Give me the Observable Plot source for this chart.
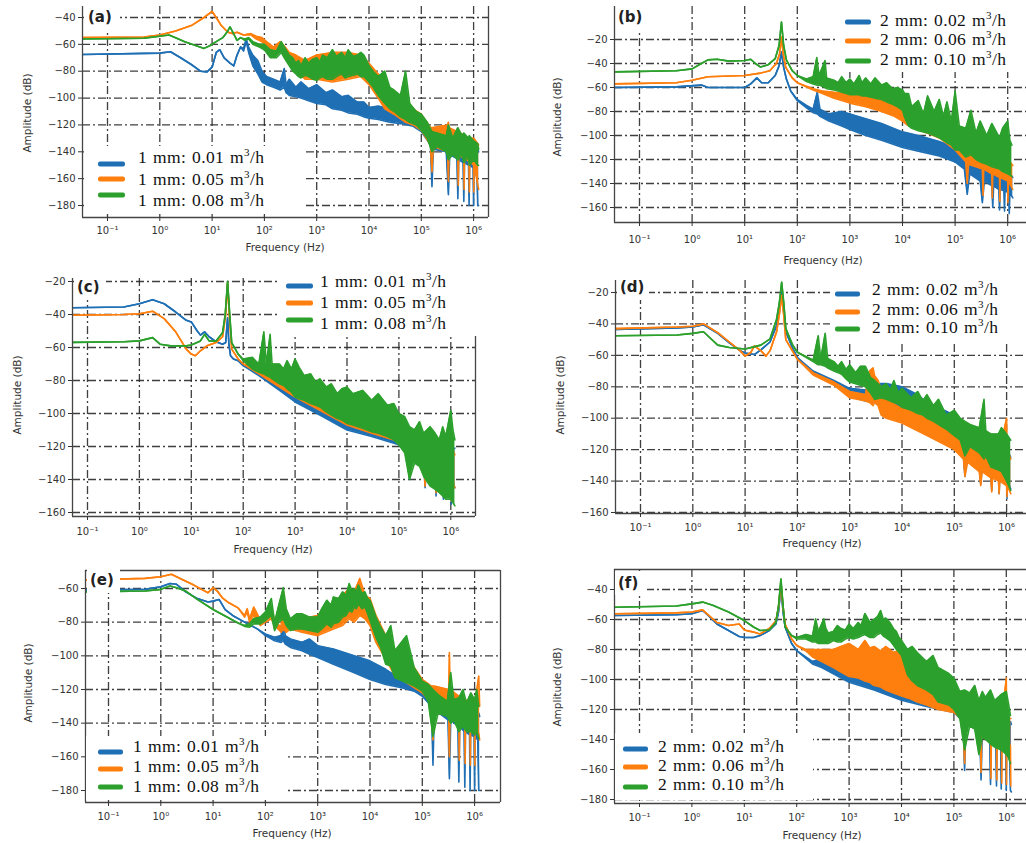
<!DOCTYPE html>
<html><head><meta charset="utf-8">
<script src="https://cdn.jsdelivr.net/npm/d3@7"></script>
<script src="https://cdn.jsdelivr.net/npm/@observablehq/plot@0.6"></script>
<style>
body{margin:0;background:#fff;}
#fig{position:relative;width:1026px;height:843px;overflow:hidden;background:#fff;font-family:"DejaVu Sans",sans-serif;}
.pl{position:absolute;}
.box{position:absolute;background:#fff;}
.lgt{position:absolute;font-family:"Liberation Serif","Times New Roman",serif;font-size:17.5px;letter-spacing:0.4px;word-spacing:1px;color:#111;white-space:nowrap;line-height:1;transform:translateY(-50%);}
.lgt sup{font-size:11px;vertical-align:7px;line-height:0;}
.sw{position:absolute;height:5px;border-radius:2px;transform:translateY(-50%);}
.tag{position:absolute;font-family:"DejaVu Sans",sans-serif;font-weight:bold;font-size:15px;color:#222;line-height:1;transform:translateY(-50%);}
.xl{position:absolute;font-size:10.5px;color:#333;transform:translate(-50%,-50%);white-space:nowrap;}
.yl{position:absolute;font-size:10.5px;color:#333;transform:translate(-50%,-50%) rotate(-90deg);white-space:nowrap;}
</style></head><body><div id="fig"></div>
<script>
// ---------- tick labels / categories ----------
const xTicks = [0.1, 1, 10, 100, 1e3, 1e4, 1e5, 1e6];
const yTicksA = [-40, -60, -80, -100, -120, -140, -160, -180];
const yTicksB = [-20, -40, -60, -80, -100, -120, -140, -160];
const yTicksC = [-20, -40, -60, -80, -100, -120, -140, -160];
const yTicksD = [-20, -40, -60, -80, -100, -120, -140, -160];
const yTicksE = [-60, -80, -100, -120, -140, -160, -180];
const yTicksF = [-40, -60, -80, -100, -120, -140, -160, -180];
const legend1mm = ["1 mm: 0.01", "1 mm: 0.05", "1 mm: 0.08"];
const legend2mm = ["2 mm: 0.02", "2 mm: 0.06", "2 mm: 0.10"];
const unitLabel = "m³/h";
const xLabel = "Frequency (Hz)";
const yLabel = "Amplitude (dB)";
const panelTags = ["(a)", "(b)", "(c)", "(d)", "(e)", "(f)"];

// ---------- series: [frequency Hz, lower dB, upper dB] ----------
const a_blue = [[0.033,-67.5,-67.5],[1,-66.5,-66.5],[1.6,-65.5,-65.5],[2.5,-70,-70],[4,-75,-75],[6,-80,-80],[8,-80.5,-80.5],[10,-77,-77],[12,-66,-66],[14,-64,-64],[17,-70,-70],[22,-74,-74],[26,-76,-76],[30,-68,-68],[35,-62,-62],[40,-65,-63],[45,-58,-56],[50,-66,-62],[60,-76,-68],[75,-82,-72],[90,-88,-80],[110,-90,-84],[150,-92,-86],[200,-94,-88],[240,-92,-78],[260,-96,-90],[300,-98,-86],[400,-99,-92],[500,-100,-88],[700,-102,-93],[1e3,-104,-90],[1.5e3,-105,-96],[2e3,-108,-94],[3e3,-109,-99],[4e3,-111,-98],[6e3,-112,-103],[8e3,-114,-103],[1e4,-115,-107],[1.5e4,-116,-106],[2.5e4,-118,-108],[4e4,-119,-113],[7e4,-121,-118],[1e5,-125,-118],[1.5e5,-135,-128],[1.6e5,-166,-128],[1.7e5,-138,-128],[3e5,-140,-130],[3.3e5,-172,-130],[3.5e5,-142,-130],[4.8e5,-145,-132],[5e5,-175,-132],[5.2e5,-146,-132],[6.3e5,-148,-134],[6.5e5,-177,-134],[6.7e5,-148,-134],[8e5,-150,-135],[8.2e5,-180,-135],[8.4e5,-150,-135],[9.8e5,-152,-136],[1e6,-180,-136],[1.02e6,-152,-136],[1.15e6,-150,-136],[1.2e6,-180,-138],[1.25e6,-180,-140]];
const a_orange = [[0.033,-55,-55],[0.5,-54.5,-54.5],[1,-53,-53],[2,-50,-50],[4,-46,-46],[7,-40,-40],[10,-35.5,-35.5],[12,-40,-40],[15,-46,-46],[20,-51,-51],[25,-52,-52],[30,-51,-51],[40,-53,-53],[55,-53,-52],[70,-56,-54],[90,-58,-55],[110,-62,-58],[150,-66,-62],[200,-64,-58],[250,-68,-62],[300,-74,-66],[400,-80,-68],[600,-86,-72],[1e3,-86,-68],[2e3,-88,-66],[4e3,-86,-66],[7e3,-84,-68],[1e4,-90,-74],[1.5e4,-100,-82],[2e4,-108,-88],[3e4,-112,-96],[5e4,-118,-100],[7e4,-120,-108],[1e5,-124,-112],[1.5e5,-135,-122],[1.6e5,-155,-122],[1.7e5,-136,-122],[3.2e5,-140,-120],[3.3e5,-162,-118],[3.4e5,-140,-122],[5e5,-142,-125],[5.1e5,-165,-125],[5.2e5,-142,-125],[6.5e5,-145,-128],[6.6e5,-168,-128],[6.7e5,-145,-128],[8.2e5,-147,-130],[8.3e5,-170,-130],[8.4e5,-147,-130],[1e6,-150,-130],[1.01e6,-170,-130],[1.02e6,-150,-130],[1.25e6,-168,-135]];
const a_green = [[0.033,-56,-56],[0.5,-55.5,-55.5],[1.5,-53,-53],[2,-55,-55],[3,-58,-58],[5,-61,-61],[7,-63,-63],[9,-61,-61],[12,-58,-58],[16,-55,-55],[20,-50,-50],[22,-47,-47],[25,-51,-51],[30,-57,-57],[35,-55,-55],[42,-57,-56],[50,-56,-55],[60,-60,-58],[80,-62,-60],[100,-64,-60],[130,-70,-64],[170,-70,-65],[210,-66,-58],[240,-70,-62],[300,-76,-68],[350,-80,-70],[400,-82,-74],[450,-84,-72],[500,-85,-76],[600,-83,-70],[700,-84,-74],[850,-86,-71],[1e3,-87,-70],[1.15e3,-85,-73],[1.3e3,-84,-68],[1.6e3,-86,-70],[2e3,-86,-64],[2.4e3,-84,-69],[3e3,-82,-66],[3.5e3,-85,-70],[4e3,-84,-64],[5e3,-83,-69],[6e3,-82,-68],[7e3,-84,-66],[8e3,-84,-68],[9e3,-86,-72],[1e4,-88,-76],[1.2e4,-92,-80],[1.5e4,-98,-84],[2e4,-104,-80],[2.5e4,-108,-92],[3e4,-110,-94],[4e4,-114,-98],[5e4,-116,-80],[6e4,-118,-104],[8e4,-120,-110],[1e5,-124,-112],[1.3e5,-130,-118],[1.6e5,-140,-125],[2e5,-136,-126],[3e5,-140,-128],[3.3e5,-146,-120],[4e5,-142,-130],[5e5,-146,-122],[6e5,-142,-128],[6.5e5,-148,-126],[8e5,-144,-130],[8.3e5,-150,-128],[1e6,-146,-132],[1.2e6,-150,-134],[1.25e6,-150,-138]];

const b_blue = [[0.033,-60,-60],[0.5,-59.5,-59.5],[1.5,-58,-58],[2,-60,-60],[10,-60,-60],[13,-57,-57],[17,-52,-52],[21,-56,-56],[28,-56,-56],[38,-50,-50],[45,-42,-42],[50,-30.5,-30.5],[55,-43,-43],[62,-53,-53],[75,-63,-63],[100,-71,-70],[150,-77,-75],[200,-81,-78],[240,-82,-64],[270,-84,-78],[400,-88,-82],[700,-92,-80],[1e3,-95,-82],[2e3,-100,-86],[4e3,-104,-90],[1e4,-110,-97],[2e4,-113,-100],[5e4,-117,-105],[1e5,-122,-110],[1.5e5,-128,-118],[1.7e5,-149,-118],[1.9e5,-132,-120],[3e5,-138,-124],[3.3e5,-156,-124],[3.6e5,-138,-124],[5e5,-142,-126],[5.2e5,-160,-126],[5.4e5,-142,-126],[6.8e5,-145,-128],[7e5,-162,-128],[7.2e5,-145,-128],[8.5e5,-146,-130],[8.7e5,-163,-130],[8.9e5,-146,-130],[1.05e6,-148,-132],[1.07e6,-165,-132],[1.1e6,-148,-132],[1.25e6,-152,-135]];
const b_orange = [[0.033,-57,-57],[0.5,-56,-56],[1,-54,-54],[2,-51,-51],[10,-50,-50],[20,-48,-48],[30,-46,-46],[40,-40,-40],[46,-32,-32],[50,-18,-18],[54,-32,-32],[60,-43,-43],[80,-52,-52],[100,-56,-56],[200,-62,-61],[300,-65,-63],[500,-69,-64],[1e3,-73,-65],[2e3,-76,-62],[4e3,-80,-64],[7e3,-84,-66],[1e4,-88,-68],[1.2e4,-91,-78],[2e4,-95,-90],[5e4,-102,-95],[1e5,-112,-100],[1.6e5,-122,-108],[1.7e5,-140,-108],[1.8e5,-124,-110],[3.3e5,-128,-112],[3.4e5,-150,-112],[3.5e5,-128,-112],[5e5,-132,-115],[5.1e5,-152,-115],[5.2e5,-132,-115],[7e5,-135,-118],[7.1e5,-155,-118],[7.2e5,-135,-118],[1e6,-138,-120],[1.01e6,-156,-120],[1.03e6,-138,-120],[1.25e6,-145,-125]];
const b_green = [[0.033,-47,-47],[0.5,-46,-46],[1,-44.5,-44.5],[1.5,-40,-40],[2,-37,-37],[3,-36.5,-36.5],[5,-38,-38],[10,-37.5,-37.5],[13,-36.5,-36.5],[16,-40,-40],[20,-43,-43],[28,-41,-41],[38,-36,-36],[45,-25,-25],[50,-5.5,-5.5],[55,-25,-25],[62,-37,-37],[80,-46,-46],[100,-50,-50],[150,-55,-53],[200,-57,-51],[235,-58,-35],[260,-58,-50],[337,-60,-37.5],[360,-61,-52],[500,-62,-54],[600,-63,-56],[700,-64,-51],[850,-65,-56],[1e3,-66,-53],[1.2e3,-66,-57],[1.5e3,-66,-50],[1.7e3,-67,-56],[2e3,-67,-52],[2.5e3,-68,-57],[3e3,-69,-52],[4e3,-70,-58],[5e3,-72,-56],[6.5e3,-74,-61],[8e3,-76,-60],[1e4,-79,-62],[1.1e4,-85,-65],[1.3e4,-92,-65],[1.5e4,-94,-76],[2e4,-96,-71],[2.5e4,-97,-82],[3e4,-98,-67],[4e4,-100,-80],[5e4,-102,-70],[6e4,-104,-84],[7e4,-106,-72],[8.5e4,-108,-88],[1e5,-112,-63],[1.2e5,-112,-92],[1.6e5,-118,-94],[2e5,-116,-79],[2.5e5,-120,-98],[3e5,-122,-88],[4e5,-124,-100],[5e5,-126,-90],[7e5,-128,-102],[8e5,-130,-94],[1e6,-132,-88],[1.1e6,-133,-104],[1.2e6,-134,-108]];

const c_blue = [[0.033,-36,-36],[0.5,-35.5,-35.5],[1,-33.5,-33.5],[1.8,-31,-31],[3,-33.5,-33.5],[5,-38.5,-38.5],[8,-43.5,-43.5],[10,-44.5,-44.5],[13,-50,-50],[15,-52.5,-52.5],[18,-50.5,-50.5],[22,-53.5,-53.5],[30,-56.5,-56.5],[40,-58,-58],[46,-57,-57],[50,-42,-42],[53,-58,-58],[57,-65,-65],[65,-67,-67],[80,-68,-68],[100,-71,-71],[200,-77,-75],[500,-86,-80],[1e3,-93,-84],[3e3,-101,-92],[1e4,-110,-98],[3e4,-114,-104],[1e5,-119,-108],[1.5e5,-125,-115],[1.6e5,-140,-115],[1.7e5,-126,-115],[3e5,-130,-118],[3.2e5,-145,-118],[3.4e5,-130,-118],[5e5,-135,-120],[5.2e5,-150,-120],[5.4e5,-135,-120],[7e5,-138,-120],[7.2e5,-152,-120],[7.4e5,-138,-120],[1e6,-140,-118],[1.02e6,-155,-118],[1.04e6,-140,-122],[1.2e6,-145,-121]];
const c_orange = [[0.033,-40.5,-40.5],[0.5,-40,-40],[1,-39.5,-39.5],[1.8,-38,-38],[3,-42.5,-42.5],[5,-50.5,-50.5],[8,-61,-61],[10,-64,-64],[12,-65,-65],[15,-62,-62],[20,-59,-59],[30,-57,-57],[40,-53.5,-53.5],[46,-40,-40],[50,-21,-21],[54,-40,-40],[60,-61,-61],[80,-67,-67],[100,-70,-70],[200,-76,-73],[500,-84,-76],[1e3,-90,-80],[3e3,-98,-86],[1e4,-107,-92],[3e4,-112,-99],[1e5,-117,-102],[1.5e5,-124,-112],[1.6e5,-138,-112],[1.7e5,-125,-112],[3e5,-130,-116],[3.2e5,-144,-116],[3.4e5,-130,-116],[5e5,-134,-118],[5.2e5,-148,-118],[5.4e5,-134,-118],[7e5,-137,-120],[7.2e5,-150,-120],[7.4e5,-137,-120],[1e6,-140,-118],[1.02e6,-153,-118],[1.04e6,-140,-120],[1.2e6,-145,-125]];
const c_green = [[0.033,-57,-57],[0.5,-56.5,-56.5],[1,-56,-56],[1.8,-54,-54],[2.5,-58,-58],[4,-59,-59],[8,-59,-59],[10,-58.5,-58.5],[15,-56,-56],[18,-52,-52],[22,-56,-56],[30,-56,-56],[40,-51,-51],[45,-40,-40],[50,-20,-20],[55,-40,-40],[60,-57,-57],[80,-64,-64],[100,-68,-67],[150,-73,-66],[200,-75,-70],[250,-76,-50.5],[280,-77,-70],[330,-78,-52],[360,-79,-70],[500,-82,-70],[600,-83,-73],[700,-85,-68],[850,-87,-73],[1e3,-90,-67],[1.2e3,-91,-72],[1.5e3,-92,-77],[2e3,-94,-76],[2.5e3,-95,-81],[3e3,-96,-79],[4e3,-99,-84],[5e3,-101,-82],[6.5e3,-103,-88],[8e3,-104,-85],[1e4,-106,-84],[1.3e4,-107,-88],[2e4,-109,-86],[3e4,-111,-92],[4e4,-112,-88],[6e4,-114,-95],[8e4,-116,-94],[1e5,-119,-100],[1.3e5,-124,-102],[1.6e5,-140,-108],[2e5,-130,-110],[2.5e5,-132,-105],[3e5,-138,-112],[4e5,-144,-108],[5e5,-146,-112],[6e5,-148,-116],[7e5,-150,-108],[8e5,-152,-114],[1e6,-152,-98],[1.1e6,-154,-110],[1.2e6,-156,-116]];

const d_blue = [[0.033,-43.5,-43.5],[0.5,-42.5,-42.5],[1,-42,-42],[1.6,-40.5,-40.5],[3,-46,-46],[5,-52,-52],[8,-57,-57],[10,-58.5,-58.5],[15,-59.5,-59.5],[20,-56.5,-56.5],[30,-51.5,-51.5],[40,-41,-41],[46,-30,-30],[50,-17,-17],[54,-30,-30],[60,-45,-45],[80,-55,-55],[100,-61.5,-61.5],[200,-71,-70],[500,-78,-76],[1e3,-86,-81],[2e3,-89,-82],[3e3,-90,-78],[5e3,-95,-78],[1e4,-100,-80],[2e4,-104,-85],[3e4,-108,-90],[1e5,-118,-98],[1.5e5,-125,-110],[1.6e5,-137,-110],[1.7e5,-126,-112],[3e5,-132,-115],[3.2e5,-142,-115],[3.4e5,-132,-115],[5e5,-136,-118],[5.2e5,-146,-118],[5.4e5,-136,-118],[7e5,-138,-120],[7.2e5,-148,-120],[7.4e5,-138,-120],[1e6,-140,-118],[1.02e6,-151,-118],[1.04e6,-140,-120],[1.2e6,-145,-125]];
const d_orange = [[0.033,-43,-43],[0.5,-42,-42],[1,-41.5,-41.5],[1.6,-40,-40],[3,-45.5,-45.5],[5,-51.5,-51.5],[8,-57,-57],[10,-60.5,-60.5],[13,-58,-58],[15,-54,-54],[20,-57,-57],[25,-60.5,-60.5],[30,-57,-57],[40,-45,-45],[46,-32,-32],[50,-22,-22],[54,-32,-32],[60,-50,-50],[100,-62.5,-62.5],[200,-72.5,-71],[500,-79,-77],[1e3,-87,-83],[2e3,-89,-85],[2.4e3,-90,-70],[2.8e3,-92,-68],[3e3,-90,-73],[3.5e3,-92,-76],[4e3,-98,-82],[5e3,-100,-88],[1e4,-103,-94],[3e4,-111,-98],[1e5,-120,-104],[1.5e5,-126,-112],[1.6e5,-137,-112],[1.8e5,-128,-114],[3e5,-134,-116],[3.2e5,-143,-116],[3.4e5,-134,-116],[5e5,-138,-118],[5.2e5,-147,-118],[5.4e5,-138,-118],[7e5,-140,-120],[7.2e5,-148,-120],[7.4e5,-140,-120],[1e6,-143,-100],[1.02e6,-150,-118],[1.04e6,-143,-120],[1.2e6,-148,-126]];
const d_green = [[0.033,-47.5,-47.5],[0.5,-47,-47],[1,-46,-46],[1.6,-45,-45],[2,-48,-48],[3,-53.5,-53.5],[5,-55,-55],[10,-56,-56],[20,-53.5,-53.5],[30,-49.5,-49.5],[40,-37,-37],[45,-27,-27],[50,-13.5,-13.5],[55,-27,-27],[60,-43,-43],[80,-53,-53],[100,-58,-58],[200,-64,-63],[250,-66,-47.5],[280,-66,-62],[340,-67,-46],[380,-68,-62],[500,-70,-64],[600,-71,-67],[700,-72,-64],[850,-75,-69],[1e3,-77,-66],[1.3e3,-78,-71],[1.6e3,-79,-67],[2e3,-80,-67],[2.5e3,-84,-74],[3e3,-88,-76],[4e3,-87,-80],[5e3,-88,-78],[6e3,-89,-82],[7e3,-90,-76],[8.5e3,-91,-84],[1e4,-93,-81],[1.5e4,-95,-87],[2e4,-97,-83],[2.5e4,-98,-89],[3e4,-100,-85],[4e4,-102,-92],[5e4,-104,-88],[7e4,-107,-98],[1e5,-111,-95],[1.3e5,-114,-100],[1.6e5,-124,-102],[2e5,-118,-104],[3e5,-122,-106],[3.7e5,-126,-88],[4e5,-124,-108],[5e5,-131,-110],[7e5,-133,-110],[8e5,-134,-106],[1e6,-140,-110],[1.2e6,-146,-114]];

const e_blue = [[0.033,-61,-61],[0.5,-60.5,-60.5],[1,-59,-59],[1.5,-57,-57],[2,-57.5,-57.5],[3,-62,-62],[5,-66,-66],[8,-68,-68],[10,-67.5,-67.5],[13,-66.5,-66.5],[17,-72.5,-72.5],[25,-76.5,-76.5],[40,-80,-80],[70,-84,-84],[100,-88,-87],[150,-91,-89],[200,-92,-88],[220,-91,-78],[240,-93,-88],[300,-95,-90],[500,-97,-92],[700,-99,-90],[1e3,-101,-94],[2e3,-105,-96],[5e3,-110,-100],[1e4,-114,-103],[2e4,-117,-108],[4e4,-119,-114],[7e4,-121,-118],[1e5,-124,-120],[1.5e5,-130,-124],[1.6e5,-165,-124],[1.7e5,-132,-124],[3.1e5,-138,-126],[3.3e5,-173,-126],[3.5e5,-138,-126],[4.8e5,-142,-128],[5e5,-175,-128],[5.2e5,-142,-128],[6.3e5,-145,-130],[6.5e5,-178,-130],[6.7e5,-145,-130],[8e5,-147,-132],[8.2e5,-180,-132],[8.4e5,-147,-132],[9.8e5,-148,-132],[1e6,-180,-132],[1.02e6,-148,-132],[1.15e6,-150,-134],[1.2e6,-180,-134],[1.25e6,-180,-136]];
const e_orange = [[0.033,-55,-55],[0.5,-54,-54],[1,-53,-53],[1.6,-51.5,-51.5],[2.5,-54.5,-54.5],[4,-57.5,-57.5],[6,-60.5,-60.5],[8,-62.5,-62.5],[10,-59.5,-59.5],[12,-61.5,-61.5],[15,-65.5,-65.5],[20,-68.5,-68.5],[30,-71.5,-71.5],[40,-77,-76],[45,-74,-72],[50,-80,-78],[60,-76,-71],[70,-79,-75],[80,-82,-79],[100,-80,-77],[130,-78,-71],[150,-82,-79],[200,-86,-83],[220,-84,-62],[250,-86,-74],[300,-84,-80],[500,-86,-78],[1e3,-88,-76],[2e3,-84,-68],[3e3,-82,-64],[4e3,-78,-60],[5e3,-80,-62],[6.4e3,-76,-54],[8e3,-78,-64],[1e4,-82,-66],[1.3e4,-92,-76],[2e4,-102,-88],[3e4,-112,-96],[5e4,-116,-100],[1e5,-122,-114],[1.5e5,-128,-118],[1.6e5,-150,-118],[1.7e5,-130,-118],[3.2e5,-135,-120],[3.3e5,-160,-98],[3.4e5,-135,-120],[5e5,-138,-124],[5.1e5,-162,-124],[5.2e5,-138,-124],[6.5e5,-140,-126],[6.6e5,-164,-126],[6.7e5,-140,-126],[8.2e5,-142,-128],[8.3e5,-165,-128],[8.4e5,-142,-128],[1e6,-144,-128],[1.01e6,-165,-128],[1.02e6,-144,-128],[1.2e6,-146,-112],[1.25e6,-150,-130]];
const e_green = [[0.033,-62,-62],[0.5,-61.5,-61.5],[1,-60.5,-60.5],[1.5,-58.5,-58.5],[2,-59.5,-59.5],[3,-61.5,-61.5],[5,-66.5,-66.5],[10,-72.5,-72.5],[20,-77.5,-77.5],[30,-80.5,-80.5],[40,-82.5,-82],[50,-83,-81],[60,-81,-78],[80,-81,-77],[100,-79,-74],[130,-76,-66],[150,-85,-80],[180,-80,-70],[220,-78,-59.5],[250,-82,-72],[300,-85,-78],[400,-84,-75],[500,-84,-75],[700,-85,-77],[1e3,-86,-77],[1.2e3,-84,-72],[1.5e3,-81,-67],[1.8e3,-83,-70],[2e3,-81,-65],[2.5e3,-80,-66],[3e3,-77,-62],[3.5e3,-76,-64],[4e3,-73,-57],[4.5e3,-74,-61],[5e3,-71,-60],[5.5e3,-72,-62],[6e3,-69,-58],[7e3,-72,-63],[8e3,-71,-62],[9e3,-75,-66],[1e4,-79,-67],[1.3e4,-89,-77],[1.6e4,-95,-83],[2e4,-105,-88],[2.5e4,-106,-82],[3e4,-113,-97],[5e4,-116,-88],[7e4,-118,-107],[1e5,-121,-115],[1.3e5,-127,-117],[1.6e5,-148,-120],[2e5,-134,-123],[3e5,-136,-127],[3.5e5,-140,-110],[4e5,-138,-126],[5e5,-145,-125],[6e5,-142,-120],[7e5,-145,-128],[8.5e5,-145,-122],[1e6,-147,-126],[1.1e6,-145,-120],[1.2e6,-149,-130]];

const f_blue = [[0.033,-57.3,-57.3],[0.5,-56.8,-56.8],[1,-56.2,-56.2],[1.6,-54,-54],[2,-57,-57],[3,-63,-63],[5,-67.3,-67.3],[8,-71.3,-71.3],[10,-72,-72],[15,-72,-72],[20,-70.7,-70.7],[30,-67.3,-67.3],[40,-63,-63],[45,-55,-55],[50,-38,-38],[55,-55,-55],[60,-65,-65],[80,-76,-76],[100,-80.7,-80.7],[200,-89.6,-88],[300,-92,-86],[1e3,-101.8,-94],[3e3,-107,-100],[1e4,-113.8,-108],[3e4,-118,-113],[1e5,-122,-118],[1.5e5,-128,-120],[1.6e5,-160.7,-120],[1.7e5,-130,-120],[3.1e5,-134,-122],[3.3e5,-167,-122],[3.5e5,-134,-122],[4.8e5,-138,-124],[5e5,-170,-124],[5.2e5,-138,-124],[6.3e5,-140,-126],[6.5e5,-171,-126],[6.7e5,-140,-126],[7.8e5,-142,-126],[8e5,-173,-126],[8.2e5,-142,-126],[9.8e5,-144,-128],[1e6,-174,-128],[1.02e6,-144,-128],[1.15e6,-146,-128],[1.2e6,-174,-128],[1.25e6,-175,-130]];
const f_orange = [[0.033,-56.2,-56.2],[0.5,-55.6,-55.6],[1,-55,-55],[1.6,-53.6,-53.6],[3,-62,-62],[5,-64,-64],[8,-63,-63],[10,-67,-67],[15,-68.4,-68.4],[20,-69.6,-69.6],[30,-66,-66],[40,-61,-61],[45,-52,-52],[50,-36,-36],[55,-52,-52],[60,-63,-63],[80,-73,-73],[100,-77.3,-77.3],[150,-81,-80],[200,-85,-80],[300,-88,-80],[500,-92,-80],[700,-95,-78],[1e3,-98,-76],[1.5e3,-99,-80],[2e3,-101,-74],[2.5e3,-102,-79],[3e3,-104,-78],[4e3,-105,-81],[5e3,-107,-78],[7e3,-109,-82],[1e4,-111,-80],[1.5e4,-113,-85],[2e4,-115,-92],[3e4,-117,-100],[5e4,-120,-110],[1e5,-122,-115],[1.5e5,-127,-118],[1.6e5,-156,-118],[1.7e5,-128,-118],[3.2e5,-132,-120],[3.3e5,-162,-120],[3.4e5,-132,-120],[5e5,-136,-122],[5.1e5,-166,-122],[5.2e5,-136,-122],[6.5e5,-138,-124],[6.6e5,-167,-124],[6.7e5,-138,-124],[8.1e5,-140,-124],[8.2e5,-169,-124],[8.3e5,-140,-124],[1e6,-142,-99],[1.01e6,-170,-124],[1.02e6,-142,-124],[1.2e6,-144,-126],[1.22e6,-171,-126]];
const f_green = [[0.033,-51.8,-51.8],[0.5,-51,-51],[1,-49.6,-49.6],[1.6,-48.4,-48.4],[2.5,-50.5,-50.5],[5,-55,-55],[10,-60.7,-60.7],[15,-65,-65],[20,-67.3,-67.3],[30,-67,-67],[40,-62,-62],[45,-51,-51],[50,-33,-33],[55,-51,-51],[60,-65,-65],[80,-70.7,-70.7],[100,-73,-72],[150,-73,-70],[200,-75,-71],[230,-75,-59.6],[260,-76,-68],[330,-76,-59.6],[360,-76,-66],[400,-76,-69],[500,-74,-68],[600,-75,-64],[700,-75,-66],[850,-73,-67],[1e3,-72,-63],[1.2e3,-73,-66],[1.5e3,-72,-62],[1.7e3,-71,-64],[2e3,-70,-56],[2.5e3,-72,-62],[3e3,-72,-60],[3.5e3,-70,-58],[4e3,-69,-54],[4.5e3,-71,-60],[5e3,-72,-59],[6e3,-74,-62],[7e3,-77,-66],[8e3,-80,-68],[9e3,-82,-72],[1e4,-84,-74],[1.3e4,-97,-80],[1.6e4,-101,-78],[2e4,-104,-82],[3e4,-107,-88],[4e4,-110,-84],[5e4,-115,-92],[8e4,-117,-96],[1e5,-120,-99],[1.3e5,-126,-108],[1.6e5,-147,-107],[2e5,-131,-109],[2.5e5,-133,-104],[3e5,-150,-114],[3.5e5,-138,-108],[4e5,-140,-112],[5e5,-143,-107],[6e5,-145,-114],[8e5,-147,-110],[1e6,-150,-108],[1.1e6,-152,-116],[1.2e6,-156,-124]];

// ---------- layout (page pixels) ----------
const colors = ["#1f6fb4", "#ff7f0e", "#2ca02c"];
const panels = [
  {tag: panelTags[0], series: [a_blue, a_orange, a_green], yTicks: yTicksA, legend: legend1mm,
   L: {sl: 0, st: 0, l: 82, r: 488, t: 6, b: 217, top: false, x01: 107, dec: 52.3, yA: [-40, 17], yB: [-180, 205], pad: 5,
       ylab: [27, 113], xlab: [285, 247], tagPos: [88, 17], tagBox: [84, 5, 36, 26],
       box: [84, 146, 222, 66], swX: 98, swW: 27, swY: [164, 179, 195], txX: 138, txY: [158, 180, 201]}},
  {tag: panelTags[1], series: [b_blue, b_orange, b_green], yTicks: yTicksB, legend: legend2mm,
   L: {sl: 513, st: 0, l: 614, r: 1030, t: 6, b: 222, top: false, x01: 639, dec: 52.6, yA: [-20, 39], yB: [-160, 207], pad: 9,
       ylab: [557, 117], xlab: [823, 260], tagPos: [618, 17], tagBox: [616, 5, 34, 26],
       box: [836, 4, 190, 68], swX: 845, swW: 26, swY: [22, 41, 61], txX: 880, txY: [21, 40, 60]}},
  {tag: panelTags[2], series: [c_blue, c_orange, c_green], yTicks: yTicksC, legend: legend1mm,
   L: {sl: 0, st: 262, l: 72, r: 475, t: 278, b: 516, top: false, x01: 87, dec: 51.9, yA: [-20, 281], yB: [-160, 512], pad: 7,
       ylab: [17, 395], xlab: [273, 549], tagPos: [77, 287], tagBox: [74, 276, 32, 24],
       box: [280, 266, 200, 70], swX: 286, swW: 27, swY: [286, 303, 320], txX: 320, txY: [282, 303, 324]}},
  {tag: panelTags[3], series: [d_blue, d_orange, d_green], yTicks: yTicksD, legend: legend2mm,
   L: {sl: 513, st: 262, l: 615, r: 1030, t: 280, b: 513, top: false, x01: 640, dec: 52.3, yA: [-20, 292], yB: [-160, 512], pad: 6,
       ylab: [560, 395], xlab: [822, 543], tagPos: [620, 287], tagBox: [617, 276, 32, 24],
       box: [830, 270, 196, 71], swX: 835, swW: 25, swY: [294, 312, 329], txX: 872, txY: [290, 310, 328]}},
  {tag: panelTags[4], series: [e_blue, e_orange, e_green], yTicks: yTicksE, legend: legend1mm,
   L: {sl: 0, st: 555, l: 85, r: 500, t: 570, b: 802, top: true, x01: 108, dec: 52.3, yA: [-60, 588], yB: [-180, 790], pad: 6,
       ylab: [28, 683], xlab: [292, 833], tagPos: [90, 580], tagBox: [87, 569, 33, 24],
       box: [86, 736, 200, 64], swX: 98, swW: 25, swY: [752, 769, 787], txX: 133, txY: [747, 767, 787]}},
  {tag: panelTags[5], series: [f_blue, f_orange, f_green], yTicks: yTicksF, legend: legend2mm,
   L: {sl: 513, st: 555, l: 614, r: 1030, t: 569, b: 803, top: true, x01: 639, dec: 52.4, yA: [-40, 589], yB: [-180, 799], pad: 6,
       ylab: [557, 687], xlab: [822, 835], tagPos: [618, 583], tagBox: [615, 571, 32, 24],
       box: [615, 733, 198, 67], swX: 623, swW: 25, swY: [749, 767, 787], txX: 658, txY: [747, 766, 785]}}
];

const supMap = {"-": "⁻", "0": "⁰", "1": "¹", "2": "²", "3": "³", "4": "⁴", "5": "⁵", "6": "⁶", "7": "⁷", "8": "⁸", "9": "⁹"};
const fmtX = d => "10" + String(Math.round(Math.log10(d))).split("").map(c => supMap[c]).join("");
const fmtY = d => (d < 0 ? "\u2212" : "") + Math.abs(d);

const fig = document.getElementById("fig");
function add(tag, cls, css, html) {
  const el = document.createElement(tag);
  el.className = cls;
  Object.assign(el.style, css);
  if (html != null) el.innerHTML = html;
  fig.appendChild(el);
  return el;
}

for (const p of panels) {
  const g = p.L;
  const xlo = Math.pow(10, -1 - (g.x01 - g.l) / g.dec);
  const xhi = Math.pow(10, -1 + (g.r - g.x01) / g.dec);
  const k = (g.yB[0] - g.yA[0]) / (g.yB[1] - g.yA[1]);
  const vTop = g.yA[0] + (g.t - g.yA[1]) * k;
  const vBot = g.yA[0] + (g.b - g.yA[1]) * k;
  const gridStyle = {stroke: "#2a2a2a", strokeWidth: 1.3, strokeDasharray: "8,3,2,3", strokeOpacity: 0.9};
  const spine = {stroke: "#444", strokeWidth: 1.3};
  const marks = [
    Plot.ruleX(xTicks, gridStyle),
    Plot.ruleY(p.yTicks, gridStyle)
  ];
  p.series.forEach((s, i) => {
    const rows = s.map(([f, lo, hi]) => ({f, lo, hi}));
    marks.push(
      Plot.areaY(rows, {x: "f", y1: "lo", y2: "hi", fill: colors[i], clip: true}),
      Plot.line(rows, {x: "f", y: "lo", stroke: colors[i], strokeWidth: 1.6, clip: true}),
      Plot.line(rows, {x: "f", y: "hi", stroke: colors[i], strokeWidth: 1.6, clip: true})
    );
  });
  marks.push(
    Plot.ruleX([xlo], spine),
    Plot.ruleX([xhi], spine),
    Plot.ruleY([vBot], spine),
    ...(g.top ? [Plot.ruleY([vTop], spine)] : []),
    Plot.axisX({ticks: xTicks, tickFormat: fmtX, tickSize: 4, tickPadding: g.pad, label: null, fontSize: 10, color: "#333"}),
    Plot.axisY({ticks: p.yTicks, tickFormat: fmtY, tickSize: 4, tickPadding: 3, label: null, fontSize: 10, color: "#333"})
  );
  const mb = 40;
  const svg = Plot.plot({
    width: g.r - g.sl,
    height: g.b - g.st + mb,
    marginLeft: g.l - g.sl,
    marginRight: 0,
    marginTop: g.t - g.st,
    marginBottom: mb,
    x: {type: "log", domain: [xlo, xhi]},
    y: {domain: [vBot, vTop]},
    style: {fontFamily: "DejaVu Sans, sans-serif", fontSize: "10px", overflow: "visible", background: "transparent", maxWidth: "none"},
    marks
  });
  const wrap = add("div", "pl", {left: g.sl + "px", top: g.st + "px"});
  wrap.appendChild(svg);
}

// overlays: axis labels, tags, legends
for (const p of panels) {
  const g = p.L;
  add("div", "xl", {left: g.xlab[0] + "px", top: g.xlab[1] + "px"}, xLabel);
  add("div", "yl", {left: g.ylab[0] + "px", top: g.ylab[1] + "px"}, yLabel);
  add("div", "box", {left: g.tagBox[0] + "px", top: g.tagBox[1] + "px", width: g.tagBox[2] + "px", height: g.tagBox[3] + "px"});
  add("div", "tag", {left: g.tagPos[0] + "px", top: g.tagPos[1] + "px"}, p.tag);
  add("div", "box", {left: g.box[0] + "px", top: g.box[1] + "px", width: g.box[2] + "px", height: g.box[3] + "px"});
  p.legend.forEach((t, i) => {
    add("div", "sw", {left: g.swX + "px", top: g.swY[i] + "px", width: g.swW + "px", background: colors[i]});
    add("div", "lgt", {left: g.txX + "px", top: g.txY[i] + "px"}, t + " " + unitLabel.replace("³", "<sup>3</sup>"));
  });
}
</script></body></html>
